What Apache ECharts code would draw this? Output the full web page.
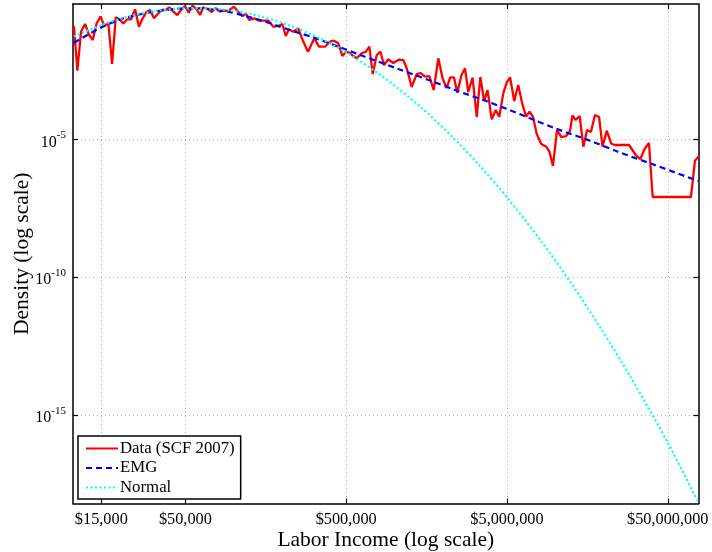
<!DOCTYPE html>
<html>
<head>
<meta charset="utf-8">
<script src="https://cdn.jsdelivr.net/npm/echarts@6/dist/echarts.min.js"></script>
<style>html,body{margin:0;padding:0;background:#fff}#c{width:712px;height:552px}</style>
</head>
<body>
<div id="c"></div>
<script>
// Data: income as log10(dollars), density as log10(density)
var dataIncomeLog = [4.006,4.027,4.050,4.075,4.100,4.123,4.147,4.171,4.195,4.220,4.243,4.266,4.288,4.313,4.338,4.361,4.386,4.410,4.433,4.458,4.479,4.504,4.527,4.552,4.576,4.599,4.624,4.649,4.672,4.697,4.720,4.744,4.769,4.790,4.810,4.841,4.863,4.887,4.914,4.935,4.966,5.001,5.032,5.055,5.076,5.096,5.128,5.157,5.183,5.215,5.246,5.277,5.302,5.323,5.343,5.370,5.401,5.426,5.461,5.501,5.530,5.567,5.598,5.623,5.650,5.675,5.698,5.718,5.743,5.764,5.795,5.822,5.843,5.864,5.889,5.912,5.934,5.961,5.992,6.029,6.054,6.077,6.106,6.138,6.162,6.189,6.216,6.243,6.272,6.299,6.324,6.346,6.369,6.390,6.416,6.438,6.458,6.485,6.511,6.533,6.557,6.578,6.604,6.629,6.651,6.676,6.697,6.718,6.744,6.769,6.794,6.818,6.839,6.861,6.884,6.912,6.943,6.963,6.985,7.010,7.037,7.067,7.091,7.106,7.126,7.151,7.174,7.197,7.221,7.246,7.272,7.293,7.319,7.348,7.371,7.458,7.500,7.528,7.555,7.582,7.605,7.843,7.868,7.889];
var dataDensityLog = [-0.890,-2.512,-1.097,-0.818,-1.217,-1.398,-0.793,-0.546,-0.890,-0.793,-2.269,-0.575,-0.647,-0.793,-0.647,-0.647,-0.285,-0.916,-0.611,-0.372,-0.310,-0.611,-0.455,-0.310,-0.310,-0.212,-0.372,-0.491,-0.310,-0.165,-0.408,-0.147,-0.285,-0.491,-0.212,-0.285,-0.383,-0.238,-0.372,-0.336,-0.336,-0.190,-0.408,-0.528,-0.437,-0.673,-0.611,-0.698,-0.698,-0.698,-0.916,-0.890,-0.818,-1.253,-1.010,-1.097,-0.974,-1.373,-1.823,-1.337,-1.641,-1.641,-1.460,-1.424,-1.518,-1.979,-1.823,-1.859,-1.979,-2.062,-1.881,-1.823,-1.641,-2.632,-1.942,-1.823,-2.305,-2.098,-2.233,-2.106,-2.124,-2.450,-3.103,-2.632,-2.595,-2.729,-2.704,-3.212,-2.062,-2.806,-3.139,-2.751,-2.751,-3.310,-2.668,-2.425,-3.284,-2.758,-4.191,-2.740,-3.611,-3.212,-4.275,-3.937,-4.180,-3.332,-2.940,-2.751,-3.611,-3.030,-3.709,-4.180,-3.999,-4.191,-4.808,-5.170,-5.268,-5.450,-5.968,-4.663,-4.917,-4.880,-4.699,-4.137,-4.300,-4.155,-5.268,-4.663,-4.735,-4.119,-4.191,-5.268,-4.688,-5.160,-5.207,-5.207,-5.569,-5.715,-5.352,-5.134,-7.093,-7.093,-5.776,-5.631];

var emgIncomeLog = [4.006,4.174,4.292,4.398,4.498,4.603,4.697,4.790,4.864,4.964,5.070,5.175,5.275,5.381,5.486,5.598,5.804,6.015,6.220,6.376,6.581,6.792,6.998,7.215,7.389,7.601,7.889];
var emgDensityLog = [-1.496,-0.945,-0.655,-0.491,-0.372,-0.292,-0.248,-0.248,-0.285,-0.372,-0.528,-0.698,-0.890,-1.097,-1.290,-1.525,-1.979,-2.432,-2.867,-3.212,-3.636,-4.119,-4.601,-5.051,-5.450,-5.896,-6.513];

var normalIncomeLog = [4.006,4.174,4.354,4.541,4.759,4.976,5.163,5.350,5.536,5.698,5.909,6.158,6.363,6.531,6.699,6.904,7.091,7.277,7.464,7.700,7.890];
var normalDensityLog = [-1.271,-0.861,-0.535,-0.325,-0.238,-0.325,-0.535,-0.876,-1.340,-1.844,-2.653,-3.810,-4.935,-5.968,-7.104,-8.634,-10.158,-11.808,-13.585,-16.016,-18.190];

var xTickValues = [15000, 50000, 500000, 5000000, 50000000];
var yTickValues = [1e-15, 1e-10, 1e-5];
var seriesNames = ['Data (SCF 2007)', 'EMG', 'Normal'];

var X_MIN = Math.pow(10, 4.0), X_MAX = Math.pow(10, 7.890);
var Y_MIN = Math.pow(10, -18.21), Y_MAX = Math.pow(10, -0.092);

function pairs(xs, ys) {
  return xs.map(function (u, i) { return [Math.pow(10, u), Math.pow(10, ys[i])]; });
}

var FONT = 'Liberation Serif';
var gridLine = { show: true, lineStyle: { color: '#b0b0b0', type: [1, 3], width: 1 } };

function xAxis(pos, labels) {
  return {
    type: 'log', position: pos, min: X_MIN, max: X_MAX,
    axisLine: { show: true, onZero: false, lineStyle: { color: '#000', width: 1.5 } },
    axisTick: { show: true, inside: true, length: 5, customValues: xTickValues, lineStyle: { color: '#000', width: 1.2 } },
    axisLabel: {
      show: labels, customValues: xTickValues, margin: 8, hideOverlap: false,
      fontFamily: FONT, fontSize: 16.3, color: '#000',
      formatter: function (v) { return '$' + Math.round(v).toLocaleString('en-US'); }
    },
    splitLine: pos === 'bottom' ? gridLine : { show: false },
    name: labels ? 'Labor Income (log scale)' : '',
    nameLocation: 'middle', nameGap: 26, nameMoveOverlap: false,
    nameTextStyle: { fontFamily: FONT, fontSize: 21.5, color: '#000' }
  };
}
function yAxis(pos, labels) {
  return {
    type: 'log', position: pos, min: Y_MIN, max: Y_MAX,
    axisLine: { show: true, onZero: false, lineStyle: { color: '#000', width: 1.5 } },
    axisTick: { show: true, inside: true, length: 5, customValues: yTickValues, lineStyle: { color: '#000', width: 1.2 } },
    axisLabel: {
      show: labels, customValues: yTickValues, margin: 7,
      formatter: function (v) { return '{b|10}{s|' + Math.round(Math.log10(v)) + '}'; },
      rich: {
        b: { fontFamily: FONT, fontSize: 16, color: '#000', padding: [6, 0, 0, 0] },
        s: { fontFamily: FONT, fontSize: 11, color: '#000', padding: [0, 0, 8, 0] }
      }
    },
    splitLine: pos === 'left' ? gridLine : { show: false },
    name: labels ? 'Density (log scale)' : '',
    nameLocation: 'middle', nameGap: 40, nameRotate: 90, nameMoveOverlap: false,
    nameTextStyle: { fontFamily: FONT, fontSize: 21.5, color: '#000' }
  };
}

var chart = echarts.init(document.getElementById('c'), null, { renderer: 'canvas' });
chart.setOption({
  animation: false,
  backgroundColor: '#fff',
  grid: { left: 73, right: 13.5, top: 4, bottom: 48.5, containLabel: false, outerBoundsMode: 'none' },
  xAxis: [xAxis('bottom', true), xAxis('top', false)],
  yAxis: [yAxis('left', true), yAxis('right', false)],
  legend: {
    show: true,
    orient: 'vertical', left: 78, top: 436,
    padding: [4, 6, 3, 7], itemGap: 2.5, itemWidth: 32, itemHeight: 14,
    borderColor: '#000', borderWidth: 1.5, backgroundColor: '#fff',
    itemStyle: { opacity: 0 },
    textStyle: { fontFamily: FONT, fontSize: 16.8, color: '#000', padding: [0, 0, 0, -3] },
    data: seriesNames
  },
  series: [
    { name: seriesNames[0], type: 'line', data: pairs(dataIncomeLog, dataDensityLog), showSymbol: false, symbol: 'none',
      lineStyle: { color: '#ff0000', width: 2.3 }, itemStyle: { color: '#ff0000' }, z: 2 },
    { name: seriesNames[1], type: 'line', data: pairs(emgIncomeLog, emgDensityLog), showSymbol: false, symbol: 'none', smooth: 0.3,
      lineStyle: { color: '#0000ff', width: 2.2, type: [6, 4] }, itemStyle: { color: '#0000ff' }, z: 3 },
    { name: seriesNames[2], type: 'line', data: pairs(normalIncomeLog, normalDensityLog), showSymbol: false, symbol: 'none', smooth: 0.3,
      lineStyle: { color: '#00ffff', width: 2.2, type: [2, 2.5] }, itemStyle: { color: '#00ffff' }, z: 4 }
  ]
});
</script>
</body>
</html>
